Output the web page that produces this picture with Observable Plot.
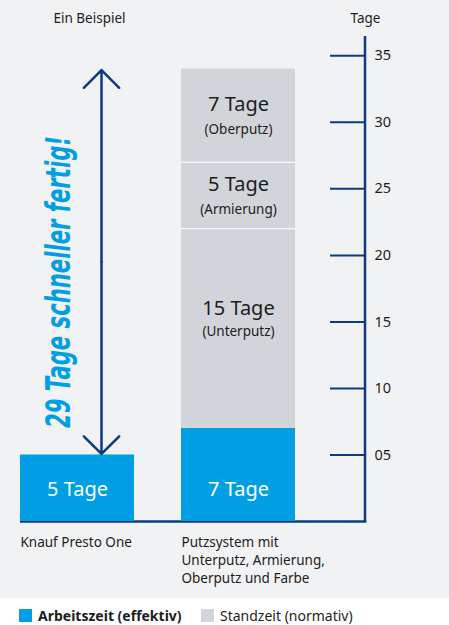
<!DOCTYPE html>
<html><head><meta charset="utf-8">
<script src="https://cdn.jsdelivr.net/npm/d3@7"></script>
<script src="https://cdn.jsdelivr.net/npm/@observablehq/plot@0.6"></script>
<style>
body{margin:0;background:#fff;font-family:"Noto Sans",sans-serif;color:#1d1d1b;}
#chart{width:449px;height:598px;background:#f1f2f4;overflow:hidden;}
#legend{position:relative;height:27px;font-size:14px;}
.item{position:absolute;top:10px;display:flex;align-items:center;white-space:nowrap;line-height:15px;}
.sw{width:13px;height:13px;margin-right:6px;display:inline-block;}
</style></head><body>
<div id="chart"></div>
<div id="legend"></div>
<script>
// ---- data ----
const categories = ["Knauf Presto One", "Putzsystem"];
const categoryLabels = ["Knauf Presto One", "Putzsystem mit\nUnterputz, Armierung,\nOberputz und Farbe"];
const segCategory = ["Knauf Presto One", "Putzsystem", "Putzsystem", "Putzsystem", "Putzsystem"];
const segType = ["Arbeitszeit (effektiv)", "Arbeitszeit (effektiv)", "Standzeit (normativ)", "Standzeit (normativ)", "Standzeit (normativ)"];
const segPhase = ["", "", "(Unterputz)", "(Armierung)", "(Oberputz)"];
const segDays = [5, 7, 15, 5, 7];
const types = ["Arbeitszeit (effektiv)", "Standzeit (normativ)"];
const yTicks = [5, 10, 15, 20, 25, 30, 35];
const slogan = "29 Tage schneller fertig!";

// ---- style ----
const BLUE = "#009fe3", GRAY = "#d1d5d9", NAVY = "#0b3d7e", INK = "#1d1d1b";
const FONT = "'Noto Sans', sans-serif";
const Y_MAX = 36.45;

// ---- derived table (stacking) ----
const totals = {};
const segs = segDays.map((v, i) => {
  const c = segCategory[i];
  const y1 = totals[c] || 0;
  const y2 = y1 + v;
  totals[c] = y2;
  return {cat: c, type: segType[i], phase: segPhase[i], days: v, y1, y2, mid: (y1 + y2) / 2,
          label: v + " Tage"};
});
const blueSegs = segs.filter(d => d.type === types[0]);
const graySegs = segs.filter(d => d.type === types[1]);
const blueLabelY = d3.min(blueSegs, d => d.days) / 2;
const separators = graySegs.filter((d, i) => i > 0).map(d => ({cat: d.cat, y: d.y1}));
const lo = totals[categories[0]], hi = totals[categories[1]];
const arrowData = [
  {cat: categories[0], from: (lo + hi) / 2, to: hi},
  {cat: categories[0], from: (lo + hi) / 2, to: lo}
];
const bottomLabels = categories.map((c, i) => ({cat: c, text: categoryLabels[i]}));

const isUnter = d => d.phase === "(Unterputz)";

const chart = Plot.plot({
  width: 449, height: 598,
  marginTop: 36, marginBottom: 77, marginLeft: 20, marginRight: 84,
  style: {background: "transparent", fontFamily: FONT, color: INK, overflow: "visible"},
  x: {domain: categories, range: [20, 295], paddingInner: 0.292, paddingOuter: 0, axis: null},
  y: {domain: [0, Y_MAX], axis: null},
  color: {domain: types, range: [BLUE, GRAY]},
  marks: [
    Plot.ruleY([0], {stroke: NAVY, strokeWidth: 2.5, insetRight: -1.25}),
    Plot.barY(segs, {x: "cat", y1: "y1", y2: "y2", fill: "type"}),
    Plot.tickY(separators, {x: "cat", y: "y", stroke: "#fff", strokeWidth: 1.2}),
    // axis line
    (index, scales, values, dimensions) => {
      const x = dimensions.width - dimensions.marginRight;
      return d3.create("svg:line")
        .attr("x1", x).attr("x2", x)
        .attr("y1", scales.y(Y_MAX)).attr("y2", scales.y(0) + 1.25)
        .attr("stroke", NAVY).attr("stroke-width", 2.5).node();
    },
    Plot.ruleY(yTicks, {stroke: NAVY, strokeWidth: 2, insetLeft: 310}),
    Plot.axisY({anchor: "right", ticks: yTicks, tickSize: 0, tickPadding: 9,
                tickFormat: d3.format("02d"), fontSize: 14.5, fill: INK}),
    // bar labels
    Plot.text(blueSegs, {x: "cat", y: () => blueLabelY, text: "label", fill: "#fff", fontSize: 20, dy: 1.5}),
    Plot.text(graySegs.filter(d => !isUnter(d)), {x: "cat", y: "mid", text: "label", fill: INK, fontSize: 20, dy: -11}),
    Plot.text(graySegs.filter(d => !isUnter(d)), {x: "cat", y: "mid", text: "phase", fill: INK, fontSize: 13.5, dy: 14}),
    Plot.text(graySegs.filter(isUnter), {x: "cat", y: "mid", text: "label", fill: INK, fontSize: 20, dy: -20}),
    Plot.text(graySegs.filter(isUnter), {x: "cat", y: "mid", text: "phase", fill: INK, fontSize: 13.5, dy: 3}),
    // double arrow
    Plot.arrow(arrowData, {x1: "cat", x2: "cat", y1: "from", y2: "to", dx: 24, stroke: NAVY,
                           strokeWidth: 2.5, headAngle: 90, headLength: 15, insetEnd: 1}),
    // slogan
    Plot.text([slogan], {x: () => categories[0], y: () => (lo + hi) / 2, text: d => d, rotate: -90,
                         dx: -18, dy: 20, fill: BLUE, fontSize: 34, fontWeight: "bold", fontStyle: "italic",
                         fontFamily: "'DejaVu Sans Condensed', 'DejaVu Sans', sans-serif"}),
    // category labels
    Plot.text(bottomLabels, {x: "cat", frameAnchor: "bottom", text: "text", textAnchor: "start",
                             dx: -57, dy: 12, lineAnchor: "top", lineHeight: 1.36, fontSize: 13.5, fill: INK}),
    // header labels
    Plot.text(["Ein Beispiel"], {frameAnchor: "top-left", text: d => d, textAnchor: "start", lineAnchor: "middle",
                                 dx: 33, dy: -18, fontSize: 13.5, fill: INK}),
    Plot.text(["Tage"], {frameAnchor: "top-right", text: d => d, textAnchor: "middle", lineAnchor: "middle",
                         dy: -18, fontSize: 13.5, fill: INK})
  ]
});
document.getElementById("chart").appendChild(chart);

// squeeze the slogan to its drawn length
d3.select(chart).selectAll("text").filter(function() { return this.textContent === slogan; })
  .attr("textLength", 292).attr("lengthAdjust", "spacingAndGlyphs");

// legend
const legend = d3.select("#legend");
const legendX = [19, 201];
types.forEach((t, i) => {
  const item = legend.append("div").attr("class", "item").style("left", legendX[i] + "px");
  item.append("span").attr("class", "sw").style("background", i === 0 ? BLUE : GRAY);
  item.append("span").style("font-weight", i === 0 ? "bold" : "normal").text(t);
});
</script>
</body></html>
